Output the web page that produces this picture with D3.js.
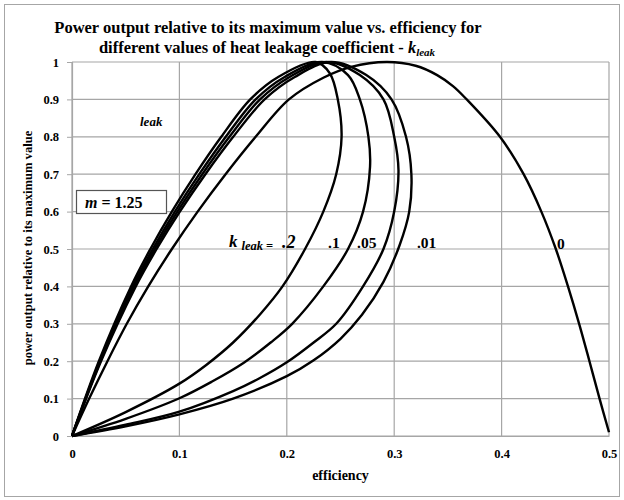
<!DOCTYPE html>
<html>
<head>
<meta charset="utf-8">
<script src="https://cdn.jsdelivr.net/npm/d3@7"></script>
<style>
  body { margin: 0; background: #fff; }
  svg { font-family: "Liberation Serif", "Times New Roman", serif; }
  .tick text { font-family: "Liberation Serif", "Times New Roman", serif; font-weight: bold; font-size: 12.5px; }
</style>
</head>
<body>
<div id="chart"></div>
<script>
// curves: [efficiency, power / max power]
// each loop goes up the left branch, over the top and back down to the origin
const kLeak02 = [[0, 0], [0.025, 0.2], [0.055, 0.4], [0.073, 0.5], [0.093, 0.6], [0.115, 0.7],
  [0.139, 0.8], [0.166, 0.9], [0.192, 0.96], [0.227, 1.0], [0.24, 0.97], [0.2475, 0.9], [0.251, 0.8],
  [0.246, 0.7], [0.234, 0.6], [0.217, 0.5], [0.196, 0.4], [0.175, 0.325], [0.15, 0.25],
  [0.125, 0.19], [0.1, 0.14], [0.05, 0.064], [0, 0]];
const kLeak01 = [[0, 0], [0.0258, 0.2], [0.0567, 0.4], [0.0752, 0.5], [0.0958, 0.6], [0.1185, 0.7],
  [0.1432, 0.8], [0.171, 0.9], [0.198, 0.96], [0.233, 1.0], [0.257, 0.965], [0.268, 0.9], [0.276, 0.8],
  [0.2775, 0.72], [0.271, 0.6], [0.257, 0.5], [0.234, 0.4], [0.205, 0.3], [0.185, 0.25],
  [0.16, 0.196], [0.13, 0.145], [0.1, 0.101], [0.05, 0.046], [0, 0]];
const kLeak005 = [[0, 0], [0.0264, 0.2], [0.058, 0.4], [0.077, 0.5], [0.0981, 0.6], [0.1213, 0.7],
  [0.1466, 0.8], [0.1751, 0.9], [0.2026, 0.96], [0.237, 1.0], [0.268, 0.965], [0.29, 0.9], [0.3, 0.8],
  [0.304, 0.71], [0.3, 0.6], [0.29, 0.5], [0.271, 0.4], [0.246, 0.3], [0.225, 0.25],
  [0.2, 0.197], [0.175, 0.155], [0.15, 0.12], [0.1, 0.065], [0.05, 0.03], [0, 0]];
const kLeak001 = [[0, 0], [0.027, 0.2], [0.0594, 0.4], [0.0788, 0.5], [0.1004, 0.6], [0.1242, 0.7],
  [0.1501, 0.8], [0.1793, 0.9], [0.2074, 0.96], [0.241, 1.0], [0.274, 0.965], [0.2975, 0.9], [0.311, 0.8],
  [0.316, 0.7], [0.314, 0.6], [0.305, 0.51], [0.29, 0.412], [0.27, 0.324], [0.25, 0.26],
  [0.225, 0.2025], [0.2, 0.16], [0.15, 0.1], [0.1, 0.058], [0.05, 0.026], [0, 0]];
const kLeak0 = [[0, 0], [0.016, 0.1], [0.033, 0.2], [0.051, 0.3], [0.071, 0.4], [0.093, 0.5],
  [0.117, 0.6], [0.143, 0.7], [0.171, 0.8], [0.202, 0.9], [0.234, 0.958], [0.26, 0.987], [0.293, 1.0],
  [0.32, 0.99], [0.34, 0.965], [0.355, 0.935], [0.3675, 0.9], [0.3985, 0.8], [0.4205, 0.7],
  [0.437, 0.6], [0.4505, 0.5], [0.4618, 0.4], [0.4722, 0.3], [0.4818, 0.2], [0.4912, 0.1], [0.5, 0.01]];

const curves = [kLeak02, kLeak01, kLeak005, kLeak001, kLeak0];
const curveLabels = ['.2', '.1', '.05', '.01', '0'];
const labelEff = [0.1955, 0.2384, 0.2654, 0.3212, 0.4516];
const labelVal = [0.5027, 0.5027, 0.5027, 0.5027, 0.5];

const xTicks = [0, 0.1, 0.2, 0.3, 0.4, 0.5];
const yTicks = [0, 0.1, 0.2, 0.3, 0.4, 0.5, 0.6, 0.7, 0.8, 0.9, 1];

const width = 624, height = 500;
const margin = { top: 62, right: 15, bottom: 64, left: 72 };

const svg = d3.select('#chart').append('svg')
  .attr('width', width)
  .attr('height', height);

// outer frame
svg.append('rect')
  .attr('x', 4.5).attr('y', 4.5)
  .attr('width', 615).attr('height', 492)
  .attr('fill', 'none').attr('stroke', '#a6a6a6');

const x = d3.scaleLinear().domain([0, 0.5]).range([margin.left, width - margin.right]);
const y = d3.scaleLinear().domain([0, 1]).range([height - margin.bottom, margin.top]);

// grid
svg.append('g').selectAll('line').data(yTicks).enter().append('line')
  .attr('x1', x(0)).attr('x2', x(0.5))
  .attr('y1', d => y(d)).attr('y2', d => y(d))
  .attr('stroke', '#a6a6a6').attr('stroke-width', 1.2);
svg.append('g').selectAll('line').data(xTicks).enter().append('line')
  .attr('x1', d => x(d)).attr('x2', d => x(d))
  .attr('y1', y(0)).attr('y2', y(1))
  .attr('stroke', '#a6a6a6').attr('stroke-width', 1.2);

const xAxis = svg.append('g')
  .attr('transform', `translate(0,${y(0)})`)
  .call(d3.axisBottom(x).tickValues(xTicks).tickSize(0).tickPadding(13).tickFormat(d3.format('')));
const yAxis = svg.append('g')
  .attr('transform', `translate(${x(0)},0)`)
  .call(d3.axisLeft(y).tickValues(yTicks).tickSize(5).tickPadding(8).tickFormat(d3.format('')));
[xAxis, yAxis].forEach(a => {
  a.select('.domain').attr('stroke', '#a6a6a6').attr('stroke-width', 1.2);
  a.selectAll('.tick line').attr('stroke', '#a6a6a6');
  a.selectAll('.tick text').attr('fill', '#000');
});

// curves
const line = d3.line()
  .x(d => x(d[0]))
  .y(d => y(d[1]))
  .curve(d3.curveCatmullRom.alpha(0.5));

svg.append('g').selectAll('path').data(curves).enter().append('path')
  .attr('d', line)
  .attr('fill', 'none')
  .attr('stroke', '#000')
  .attr('stroke-width', 2.4);

// curve labels
svg.append('g').selectAll('text').data(curveLabels).enter().append('text')
  .attr('x', (d, i) => x(labelEff[i]))
  .attr('y', (d, i) => y(labelVal[i]))
  .attr('font-size', (d, i) => i === 0 ? 18 : 15.5)
  .attr('font-style', (d, i) => i === 0 ? 'italic' : null)
  .attr('font-weight', 'bold')
  .text(d => d);

const kl = svg.append('text')
  .attr('x', 229).attr('y', 247)
  .attr('font-weight', 'bold');
kl.append('tspan').attr('font-size', 17).attr('font-style', 'italic').text('k');
kl.append('tspan').attr('font-size', 12.5).attr('font-style', 'italic').attr('dx', 4).attr('dy', 3).text('leak');
kl.append('tspan').attr('font-size', 12.5).attr('dx', 3).text('=');

svg.append('text')
  .attr('x', 140).attr('y', 126)
  .attr('font-size', 13).attr('font-weight', 'bold').attr('font-style', 'italic')
  .text('leak');

// m box
svg.append('rect')
  .attr('x', 76.5).attr('y', 190.5)
  .attr('width', 90).attr('height', 23)
  .attr('fill', '#fff').attr('stroke', '#555').attr('stroke-width', 1.2);
const mt = svg.append('text')
  .attr('x', 85).attr('y', 207.5)
  .attr('font-size', 16).attr('font-weight', 'bold');
mt.append('tspan').attr('font-style', 'italic').text('m');
mt.append('tspan').text(' = 1.25');

// titles
const title = svg.append('g')
  .attr('font-weight', 'bold').attr('font-size', 16.5);
title.append('text')
  .attr('x', 268).attr('y', 33)
  .attr('text-anchor', 'middle')
  .text('Power output relative to its maximum value vs. efficiency for');
const t2 = title.append('text')
  .attr('x', 267).attr('y', 53)
  .attr('text-anchor', 'middle');
t2.append('tspan').text('different values of heat leakage coefficient   - ');
t2.append('tspan').attr('font-style', 'italic').text('k');
t2.append('tspan').attr('font-style', 'italic').attr('font-size', 11).attr('dy', 3).text('leak');

svg.append('text')
  .attr('x', x(0.25)).attr('y', 480)
  .attr('text-anchor', 'middle')
  .attr('font-size', 14).attr('font-weight', 'bold')
  .text('efficiency');

svg.append('text')
  .attr('transform', `translate(32,${y(0.5) - 1}) rotate(-90)`)
  .attr('text-anchor', 'middle')
  .attr('font-size', 12.6).attr('font-weight', 'bold')
  .text('power output relative to its maximum value');
</script>
</body>
</html>
